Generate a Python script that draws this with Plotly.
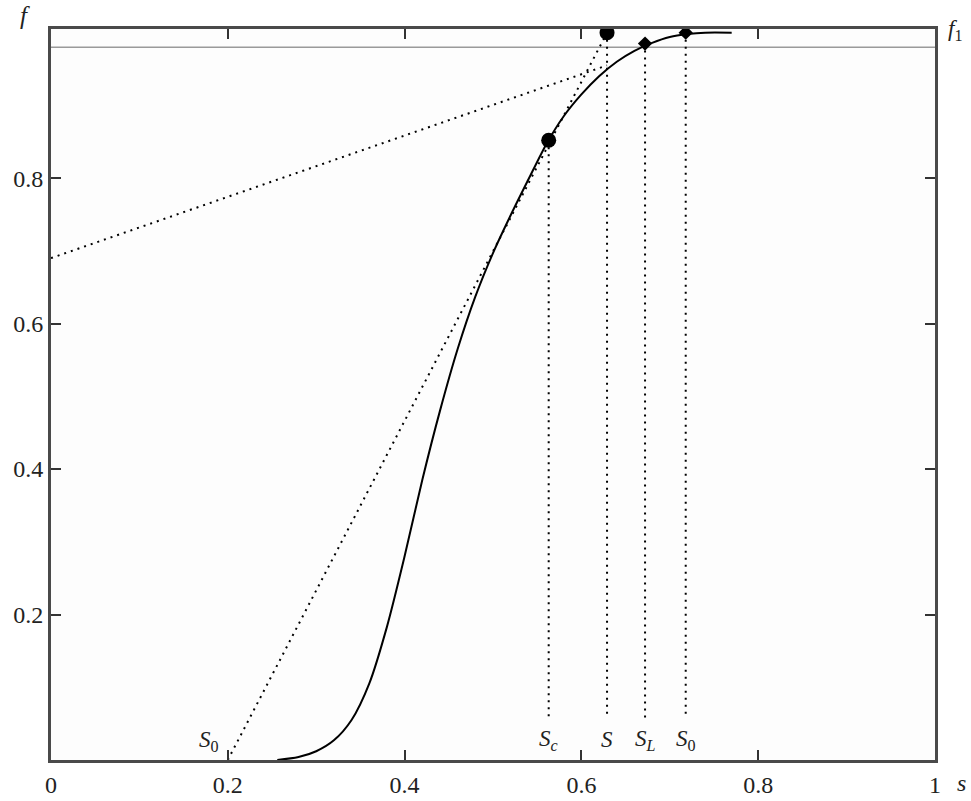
import plotly.graph_objects as go

# fractional-flow curve f(s)
s_curve = [0.256, 0.28, 0.30, 0.32, 0.34, 0.36, 0.38, 0.40, 0.42, 0.44, 0.46, 0.48,
           0.50, 0.52, 0.54, 0.56, 0.58, 0.60, 0.62, 0.64, 0.66, 0.68, 0.70, 0.72,
           0.74, 0.77]
f_curve = [0.0, 0.004, 0.012, 0.027, 0.055, 0.105, 0.183, 0.28, 0.385, 0.48, 0.565, 0.637,
           0.697, 0.749, 0.798, 0.846, 0.885, 0.915, 0.94, 0.96, 0.975, 0.986, 0.994, 0.998,
           1.0, 1.0]

# tangent lines
tan1_s = [0.2, 0.629]
tan1_f = [0.0, 1.0]
tan2_s = [0.0, 0.629]
tan2_f = [0.69, 0.955]

f1_level = 0.98

# characteristic points
dot_s = [0.563, 0.629]
dot_f = [0.852, 1.0]
dia_s = [0.672, 0.718]
dia_f = [0.985, 1.0]

# vertical dotted drop lines: (s, top f)
drops_s = [0.563, 0.629, 0.672, 0.718]
drops_f = [0.852, 1.0, 0.985, 1.0]
drop_labels = ["<i>S</i><sub><i>c</i></sub>", "<i>S</i>", "<i>S</i><sub><i>L</i></sub>",
               "<i>S</i><sub>0</sub>"]

xtick_vals = [0, 0.2, 0.4, 0.6, 0.8, 1]
xtick_text = ["0", "0.2", "0.4", "0.6", "0.8", "1"]
ytick_vals = [0.2, 0.4, 0.6, 0.8]
ytick_text = ["0.2", "0.4", "0.6", "0.8"]

FONT = "Liberation Serif, Times New Roman, serif"
DOT = "2px,5px"
TXT = "#222"
fig = go.Figure()

fig.add_trace(go.Scatter(x=[0, 1], y=[f1_level, f1_level], mode="lines",
                         line=dict(color="#9a9a9a", width=1.5), hoverinfo="skip"))

for s, f in zip(drops_s, drops_f):
    fig.add_trace(go.Scatter(x=[s, s], y=[f, 0.058], mode="lines",
                             line=dict(color="black", width=2, dash=DOT), hoverinfo="skip"))

fig.add_trace(go.Scatter(x=tan1_s, y=tan1_f, mode="lines",
                         line=dict(color="black", width=2, dash=DOT)))
fig.add_trace(go.Scatter(x=tan2_s, y=tan2_f, mode="lines",
                         line=dict(color="black", width=2, dash=DOT)))

fig.add_trace(go.Scatter(x=s_curve, y=f_curve, mode="lines",
                         line=dict(color="black", width=2, shape="spline", smoothing=0.8)))

fig.add_trace(go.Scatter(x=dot_s, y=dot_f, mode="markers",
                         marker=dict(color="black", size=15, symbol="circle")))
fig.add_trace(go.Scatter(x=dia_s, y=dia_f, mode="markers",
                         marker=dict(color="black", size=11, symbol="diamond")))

annotations = []
for s, lab in zip(drops_s, drop_labels):
    annotations.append(dict(x=s, y=0.028, xref="x", yref="y", text=lab, showarrow=False,
                            xanchor="center", yanchor="middle",
                            font=dict(family=FONT, size=23, color=TXT)))
annotations.append(dict(x=0.179, y=0.026, xref="x", yref="y", text="<i>S</i><sub>0</sub>",
                        showarrow=False, xanchor="center", yanchor="middle",
                        font=dict(family=FONT, size=23, color=TXT)))
annotations.append(dict(x=-0.029, y=1.019, xref="paper", yref="paper", text="<i>f</i>",
                        showarrow=False, xanchor="center", yanchor="middle",
                        font=dict(family=FONT, size=25, color=TXT)))
annotations.append(dict(x=1.012, y=0.998, xref="paper", yref="paper", text="<i>f</i><sub>1</sub>",
                        showarrow=False, xanchor="left", yanchor="middle",
                        font=dict(family=FONT, size=23, color=TXT)))
annotations.append(dict(x=1.03, y=-0.032, xref="paper", yref="paper", text="<i>s</i>",
                        showarrow=False, xanchor="center", yanchor="middle",
                        font=dict(family=FONT, size=24, color=TXT)))

fig.update_layout(
    width=971, height=801,
    margin=dict(l=51, r=36, t=29, b=41, autoexpand=False),
    paper_bgcolor="white", plot_bgcolor="#fdfdfd",
    showlegend=False,
    annotations=annotations,
    xaxis=dict(range=[0, 1], tickvals=xtick_vals, ticktext=xtick_text,
               ticks="inside", ticklen=10, tickwidth=1.5, tickcolor="#333",
               showline=True, linecolor="#4a4a4a", linewidth=3, mirror="ticks",
               showgrid=False, zeroline=False, automargin=False, ticklabelstandoff=1,
               tickfont=dict(family=FONT, size=24, color=TXT)),
    yaxis=dict(range=[0, 1.005], tickvals=ytick_vals, ticktext=ytick_text,
               ticks="inside", ticklen=10, tickwidth=1.5, tickcolor="#333",
               showline=True, linecolor="#4a4a4a", linewidth=3, mirror="ticks",
               showgrid=False, zeroline=False, automargin=False,
               tickfont=dict(family=FONT, size=24, color=TXT)),
)

fig.write_html("out.html")
